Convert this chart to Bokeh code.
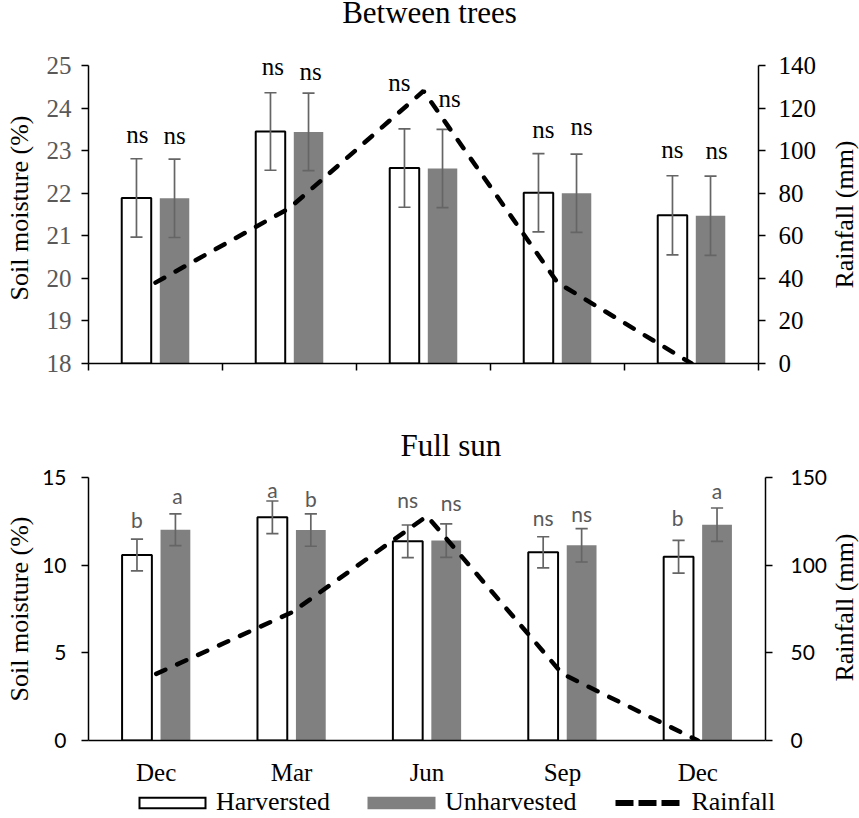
import math
from bokeh.plotting import figure
from bokeh.models import (Range1d, LinearAxis, FixedTicker, Legend, LegendItem, Title,
                          CustomJSTickFormatter)
from bokeh.layouts import column, row
from bokeh.embed import file_html
from bokeh.resources import INLINE
from bokeh.core.properties import value

# ---------------- data ----------------
months = ["Dec", "Mar", "Jun", "Sep", "Dec"]
rainfall_mm = [38, 73, 128, 38, 0]

bt_harvested = [21.89, 23.45, 22.59, 22.01, 21.48]
bt_unharvested = [21.88, 23.44, 22.58, 22.00, 21.47]
bt_harvested_err = [0.92, 0.91, 0.92, 0.92, 0.93]
bt_unharvested_err = [0.92, 0.91, 0.92, 0.92, 0.93]
bt_harvested_sig = ["ns", "ns", "ns", "ns", "ns"]
bt_unharvested_sig = ["ns", "ns", "ns", "ns", "ns"]

fs_harvested = [10.58, 12.73, 11.36, 10.73, 10.48]
fs_unharvested = [12.02, 12.00, 11.40, 11.13, 12.31]
fs_harvested_err = [0.91, 0.93, 0.93, 0.89, 0.93]
fs_unharvested_err = [0.91, 0.92, 0.95, 0.95, 0.95]
fs_harvested_sig = ["b", "a", "ns", "ns", "b"]
fs_unharvested_sig = ["a", "b", "ns", "ns", "a"]

bt_moisture_ticks = [18, 19, 20, 21, 22, 23, 24, 25]
bt_rain_ticks = [0, 20, 40, 60, 80, 100, 120, 140]
fs_moisture_ticks = [0, 5, 10, 15]
fs_rain_ticks = [0, 50, 100, 150]

titles = ["Between trees", "Full sun"]
y_title = "Soil moisture (%)"
y2_title = "Rainfall (mm)"
legend_labels = ["Harversted", "Unharvested", "Rainfall"]

# ---------------- style / layout ----------------
SERIF = "Liberation Serif"
SANS = "Lato"
GRAY = "#808080"
ERR = "#656565"
LBL = "#595959"
PAGE_W = 859
BL, BR = 88, 65                 # shared left / right borders of the chart column
COL_W = 830
FRAME_R = COL_W - BR
CHART_H = 787
LEG_H = 29


def blank(width, height, xr, yr, bl=0, br=0):
    f = figure(width=width, height=height, x_range=Range1d(*xr), y_range=Range1d(*yr),
               output_backend="svg", toolbar_location=None, title=None,
               x_axis_location=None, y_axis_location=None,
               min_border_left=bl, min_border_right=br, min_border_top=0, min_border_bottom=0)
    f.outline_line_color = None
    f.grid.visible = False
    f.background_fill_color = "white"
    f.border_fill_color = "white"
    return f


def style_axis(ax, st, stand, color):
    ax.major_tick_out = 7
    ax.major_tick_in = 0
    ax.minor_tick_line_color = None
    ax.axis_line_width = 1.5
    ax.major_tick_line_width = 1.5
    ax.major_label_standoff = stand
    ax.major_label_text_font = st["tick_font"]
    ax.major_label_text_font_size = st["tick_size"]
    ax.major_label_text_color = color
    ax.axis_label_text_font = SERIF
    ax.axis_label_text_font_size = "26px"
    ax.axis_label_text_font_style = "normal"
    ax.axis_label_text_color = "black"


def build(title, harv, unharv, h_err, u_err, h_sig, u_sig, y_ticks, rain_ticks, st):
    n = len(months)
    xs = list(range(n))
    xh = [x - 0.142 for x in xs]
    xu = [x + 0.142 for x in xs]
    y0, y1 = y_ticks[0], y_ticks[-1]
    r0, r1 = rain_ticks[0], rain_ticks[-1]
    pad = st["pad"] / st["fh"]            # headroom above the top tick (for labels)
    ttl = None
    if title is not None:
        ttl = Title(text=title, align="left", offset=st["title_off"],
                    standoff=st["title_stand"], vertical_align="bottom",
                    text_font=SERIF, text_font_size="31px",
                    text_font_style="normal", text_color="black")
    p = figure(frame_width=st["fw"], frame_height=st["fh"] + st["pad"],
               x_range=Range1d(-0.5, n - 0.5),
               y_range=Range1d(y0, y1 + (y1 - y0) * pad),
               output_backend="svg", toolbar_location=None, title=ttl,
               min_border_left=BL, min_border_right=BR,
               min_border_top=st["bt"], min_border_bottom=st["bb"])
    p.extra_y_ranges = {"rain": Range1d(r0, r1 + (r1 - r0) * pad)}
    p.xgrid.visible = False
    p.ygrid.visible = False
    p.outline_line_color = None
    p.background_fill_color = "white"
    p.border_fill_color = "white"

    p.vbar(x=xh, top=harv, bottom=y0, width=0.22, fill_color="white",
           line_color="black", line_width=2)
    p.vbar(x=xu, top=unharv, bottom=y0, width=0.22, fill_color=GRAY, line_color=None)
    cap = 0.045
    for xv, vals, errs in ((xh, harv, h_err), (xu, unharv, u_err)):
        lo = [v - e for v, e in zip(vals, errs)]
        hi = [v + e for v, e in zip(vals, errs)]
        p.segment(x0=xv, y0=lo, x1=xv, y1=hi, line_color=ERR, line_width=1.7)
        p.segment(x0=[x - cap for x in xv], y0=hi, x1=[x + cap for x in xv], y1=hi,
                  line_color=ERR, line_width=1.7)
        p.segment(x0=[x - cap for x in xv], y0=lo, x1=[x + cap for x in xv], y1=lo,
                  line_color=ERR, line_width=1.7)

    p.line(xs, rainfall_mm, y_range_name="rain", line_color="black", line_width=4.5,
           line_dash="10 13", line_cap="round")

    for xv, vals, errs, sig, dx, gap in ((xh, harv, h_err, h_sig, st["hdx"], st["hgap"]),
                                         (xu, unharv, u_err, u_sig, st["udx"], st["ugap"])):
        hi = [v + e for v, e in zip(vals, errs)]
        p.text(x=xv, y=hi, text=sig, x_offset=dx,
               y_offset=[-(g + st["gap_fix"]) for g in gap],
               text_align="center", text_baseline="alphabetic",
               text_font=value(st["sig_font"]), text_font_size=value(st["sig_size"]),
               text_color=st["sig_color"])

    ax = p.yaxis[0]
    ax.ticker = FixedTicker(ticks=y_ticks)
    ax.bounds = (y0, y1)
    style_axis(ax, st, st["lstand"], st["ltick_color"])
    ax.axis_label = y_title
    ax.axis_label_standoff = st["llab_stand"]

    rax = LinearAxis(y_range_name="rain", ticker=FixedTicker(ticks=rain_ticks),
                     bounds=(r0, r1))
    style_axis(rax, st, st["rstand"], "black")
    p.add_layout(rax, "right")

    xa = p.xaxis[0]
    xa.axis_line_width = 1.5
    xa.minor_tick_line_color = None
    if st["xlabels"]:
        xa.ticker = FixedTicker(ticks=xs)
        xa.major_label_overrides = {i: m for i, m in enumerate(months)}
        xa.major_tick_line_color = None
        xa.major_tick_out = 0
        xa.major_tick_in = 0
        xa.major_label_standoff = 18
        xa.major_label_text_font = SERIF
        xa.major_label_text_font_size = "25px"
        xa.major_label_text_color = "black"
    else:
        xa.ticker = FixedTicker(ticks=[x - 0.5 for x in range(n + 1)])
        xa.formatter = CustomJSTickFormatter(code="return ''")
        xa.major_tick_out = 7
        xa.major_tick_in = 0
        xa.major_tick_line_width = 1.5
        xa.major_label_standoff = 0
    return p


top_style = dict(fw=670, fh=298, pad=13, bt=18, bb=40,
                 hdx=[1, 2.5, -5, 5, 0], hgap=[15, 17, 37, 15, 17],
                 udx=[0, 2, 7, 5, 6], ugap=[15, 13, 22, 19, 17], gap_fix=9,
                 sig_font=SERIF, sig_size="25px", sig_color="black",
                 tick_font=SERIF, tick_size="25px", ltick_color=LBL,
                 lstand=10, rstand=13, llab_stand=10, xlabels=False)

bot_style = dict(fw=677, fh=263, pad=0, bt=74, bb=47,
                 hdx=[0, 0, 0, 0, -1], hgap=[13, 4, 19, 12, 16],
                 udx=[2, 0, 5, 0, 0], ugap=[11, 8, 14, 8, 11], gap_fix=7,
                 sig_font=SANS, sig_size="21px", sig_color=LBL,
                 tick_font=SANS, tick_size="21px", ltick_color="black",
                 lstand=15, rstand=18, llab_stand=5, xlabels=True,
                 title_off=312, title_stand=30)

# title strip for the upper panel (x in page pixels, y downward)
t1 = blank(COL_W, 34, (BL, FRAME_R), (34, 0), bl=BL, br=BR)
t1.text(x=[429], y=[12], text=[titles[0]], text_align="center", text_baseline="middle",
        text_font=value(SERIF), text_font_size=value("31px"), text_color="black")

p1 = build(None, bt_harvested, bt_unharvested, bt_harvested_err,
           bt_unharvested_err, bt_harvested_sig, bt_unharvested_sig,
           bt_moisture_ticks, bt_rain_ticks, top_style)
p2 = build(titles[1], fs_harvested, fs_unharvested, fs_harvested_err,
           fs_unharvested_err, fs_harvested_sig, fs_unharvested_sig,
           fs_moisture_ticks, fs_rain_ticks, bot_style)

# right-hand strip carrying both rainfall axis titles (pixel coordinates, y downward)
RS_W = PAGE_W - COL_W
rs = blank(RS_W, CHART_H, (0, RS_W), (CHART_H, 0))
rs.text(x=[14, 14], y=[214, 607], text=[y2_title, y2_title], angle=math.pi / 2,
        text_align="center", text_baseline="middle",
        text_font=value(SERIF), text_font_size=value("26px"), text_color="black")

# legend strip spanning the full page width; swatch renderers hold points off-view
lf = blank(PAGE_W, LEG_H, (0, PAGE_W), (0, LEG_H))
off_x, off_y = [0, 1], [-100, -100]
sw_h_out = lf.line(x=off_x, y=off_y, line_color="black", line_width=12.6,
                   line_dash="68 17", line_dash_offset=77, line_cap="butt")
sw_h_in = lf.line(x=off_x, y=off_y, line_color="white", line_width=8.6,
                  line_dash="64 21", line_dash_offset=75, line_cap="butt")
sw_u = lf.line(x=off_x, y=off_y, line_color=GRAY, line_width=12.6,
               line_dash="68 17", line_dash_offset=77, line_cap="butt")
sw_r = lf.line(x=off_x, y=off_y, line_color="black", line_width=6,
               line_dash="18 5 18 5 18 21", line_dash_offset=75, line_cap="butt")
legend = Legend(items=[LegendItem(label=legend_labels[0], renderers=[sw_h_out, sw_h_in]),
                       LegendItem(label=legend_labels[1], renderers=[sw_u]),
                       LegendItem(label=legend_labels[2], renderers=[sw_r])],
                location=(130, 0), orientation="horizontal",
                glyph_width=85, glyph_height=27, label_standoff=1, spacing=29,
                padding=0, margin=0, border_line_color=None,
                background_fill_alpha=0, label_text_font=SERIF,
                label_text_font_size="26px", label_text_color="black",
                label_text_baseline="middle")
lf.add_layout(legend)

charts = row(column(t1, p1, p2, spacing=0), rs, spacing=0)
layout = column(charts, lf, spacing=0)
open("out.html", "w").write(file_html(layout, INLINE))
